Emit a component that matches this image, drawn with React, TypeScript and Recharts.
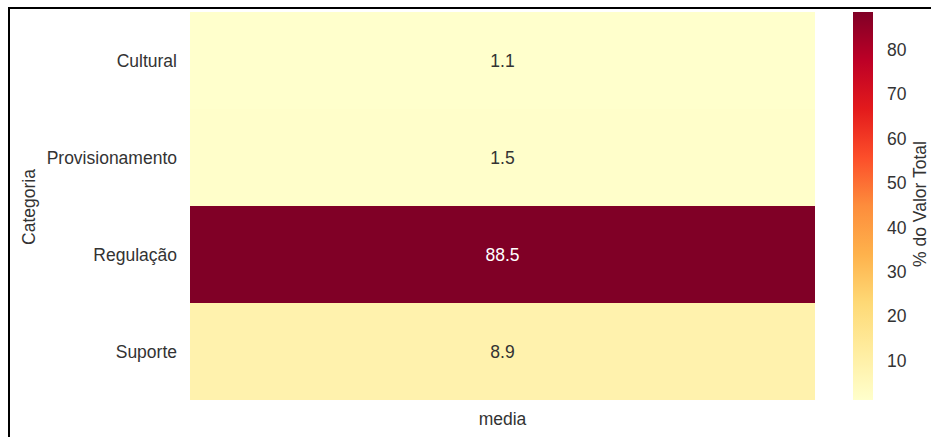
import {Bar, BarChart, Cell, LabelList, XAxis, YAxis} from "recharts";

const categories = ["Cultural", "Provisionamento", "Regulação", "Suporte"];
const mediaValues = [1.1, 1.5, 88.5, 8.9];
const columns = ["media"];
const colorbarTicks = [10, 20, 30, 40, 50, 60, 70, 80];

// YlOrRd stops
const YLORRD = ["#ffffcc", "#ffeda0", "#fed976", "#feb24c", "#fd8d3c", "#fc4e2a", "#e31a1c", "#bd0026", "#800026"];

const vMin = Math.min(...mediaValues);
const vMax = Math.max(...mediaValues);

const hexToRgb = (h: string) => [1, 3, 5].map(i => parseInt(h.slice(i, i + 2), 16));

const colorFor = (v: number) => {
  const t = Math.max(0, Math.min(1, (v - vMin) / (vMax - vMin))) * (YLORRD.length - 1);
  const i = Math.min(Math.floor(t), YLORRD.length - 2);
  const f = t - i;
  const a = hexToRgb(YLORRD[i]);
  const b = hexToRgb(YLORRD[i + 1]);
  const c = a.map((x, k) => Math.round(x + (b[k] - x) * f));
  return `rgb(${c[0]},${c[1]},${c[2]})`;
};

const heatData = categories.map((categoria, i) => ({
  categoria,
  media: mediaValues[i],
  span: columns.length,
}));

const colorbarData = [{name: "cb", range: [vMin, vMax]}];

const FONT = "'Liberation Sans', Arial, sans-serif";
const TEXT = "#333333";
const FS = 17.5;

const CellLabel = (props: any) => {
  const {x, y, width, height, value} = props;
  const dark = (value - vMin) / (vMax - vMin) > 0.6;
  return <text
    x={x + width / 2}
    y={y + height / 2}
    textAnchor="middle"
    dominantBaseline="central"
    fontSize={FS}
    fontFamily={FONT}
    fill={dark ? "#ffffff" : TEXT}
  >{value}</text>;
};

export default function App() {
  return <div style={{position: "fixed", left: 0, top: 0, width: 931, height: 437, background: "#fff", overflow: "hidden", fontFamily: FONT}}>
    <div style={{position: "absolute", left: 8, top: 7, width: 940, height: 450, borderLeft: "2px solid #000", borderTop: "2px solid #000"}}/>

    <div style={{position: "absolute", left: 0, top: 0}}>
      <BarChart
        width={840}
        height={437}
        data={heatData}
        layout="vertical"
        margin={{top: 12, right: 25, bottom: 7, left: 0}}
        barCategoryGap={0}
      >
        <XAxis
          type="number"
          domain={[0, columns.length]}
          ticks={columns.map((_, i) => i + 0.5)}
          tickFormatter={(v: number) => columns[Math.floor(v)]}
          axisLine={false}
          tickLine={false}
          tickSize={0}
          tickMargin={13}
          height={30}
          tick={{fontSize: FS, fill: TEXT, fontFamily: FONT}}
        />
        <YAxis
          type="category"
          dataKey="categoria"
          width={190}
          axisLine={false}
          tickLine={false}
          tickSize={0}
          tickMargin={13}
          tick={{fontSize: FS, fill: TEXT, fontFamily: FONT}}
          label={{
            content: () => <text x={29} y={207} transform="rotate(-90 29 207)" textAnchor="middle"
                                 dominantBaseline="central" fontSize={FS} fontFamily={FONT}
                                 fill={TEXT}>Categoria</text>
          }}
        />
        <Bar dataKey="span" isAnimationActive={false}>
          {heatData.map((d) => <Cell key={d.categoria} fill={colorFor(d.media)}/>)}
          <LabelList dataKey="media" content={CellLabel}/>
        </Bar>
      </BarChart>
    </div>

    <div style={{position: "absolute", left: 820, top: 0}}>
      <BarChart
        width={111}
        height={437}
        data={colorbarData}
        margin={{top: 12, right: 0, bottom: 37, left: 33}}
        barCategoryGap={0}
      >
        <defs>
          <linearGradient id="ylorrd" x1="0" y1="1" x2="0" y2="0">
            {YLORRD.map((c, i) => <stop key={c} offset={i / (YLORRD.length - 1)} stopColor={c}/>)}
          </linearGradient>
        </defs>
        <XAxis dataKey="name" hide/>
        <YAxis
          orientation="right"
          type="number"
          domain={[vMin, vMax]}
          ticks={colorbarTicks}
          width={58}
          axisLine={false}
          tickLine={false}
          tickSize={0}
          tickMargin={14}
          tick={{fontSize: FS, fill: TEXT, fontFamily: FONT}}
          label={{
            content: () => <text x={100} y={204} transform="rotate(-90 100 204)" textAnchor="middle"
                                 dominantBaseline="central" fontSize={FS} fontFamily={FONT}
                                 fill={TEXT}>% do Valor Total</text>
          }}
        />
        <Bar dataKey="range" fill="url(#ylorrd)" isAnimationActive={false}/>
      </BarChart>
    </div>
  </div>;
}
